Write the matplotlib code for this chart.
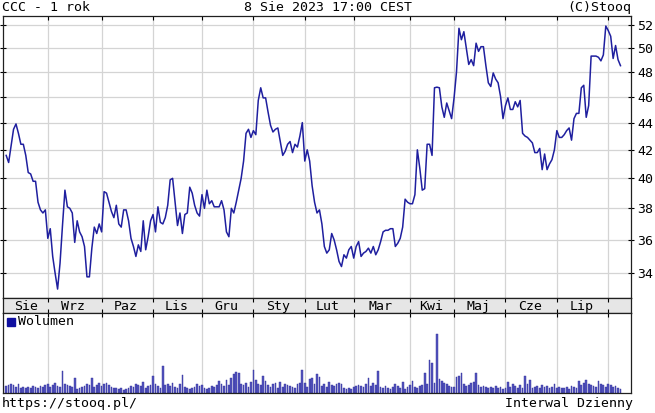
import numpy as np
import pandas as pd
import matplotlib
matplotlib.use("Agg")
import matplotlib.pyplot as plt

# trading calendar (GPW), 8 Aug 2022 - 8 Aug 2023
holidays = ["2022-08-15", "2022-11-01", "2022-11-11", "2022-12-26", "2023-01-06",
            "2023-04-07", "2023-04-10", "2023-05-01", "2023-05-03", "2023-06-08"]
dates = pd.bdate_range("2022-08-08", "2023-08-08")
dates = dates[~dates.isin(pd.to_datetime(holidays))]

month_names = ["Sty", "Lut", "Mar", "Kwi", "Maj", "Cze",
               "Lip", "Sie", "Wrz", "Paz", "Lis", "Gru"]

price = [
    # sie
    41.6, 41.1, 42.3, 43.5, 43.9, 43.2, 42.4, 42.4, 41.6, 40.4, 40.3, 39.8, 39.8, 38.4, 37.9, 37.7, 37.9,
    # wrz
    36.1, 36.7, 35.0, 34.0, 33.1, 34.6, 36.9, 39.2, 38.1, 38.0, 37.7, 35.85, 37.2, 36.5, 36.2, 35.6,
    33.8, 33.8, 35.5, 36.8, 36.4, 37.0,
    # paz
    36.5, 39.1, 39.0, 38.4, 37.8, 37.4, 38.2, 37.0, 36.8, 37.9, 37.9, 37.2, 36.1, 35.6, 35.0, 35.7,
    35.3, 37.2, 35.4, 36.2, 37.2,
    # lis
    37.6, 36.5, 38.1, 37.1, 37.0, 37.4, 38.2, 39.9, 40.0, 38.4, 36.9, 37.7, 36.4, 37.6, 37.7, 39.4,
    39.0, 38.2, 37.7, 37.5,
    # gru
    38.9, 38.0, 39.2, 38.3, 38.5, 38.1, 38.1, 38.1, 38.5, 37.9, 36.5, 36.2, 38.0, 37.7, 38.4, 39.2,
    40.0, 41.2, 43.2, 43.5, 42.9,
    # sty
    43.4, 43.1, 45.7, 46.7, 45.9, 45.9, 44.8, 43.8, 43.3, 43.5, 43.6, 42.6, 41.6, 41.9, 42.4, 42.6,
    41.8, 42.4, 42.2, 43.0, 44.0,
    # lut
    41.2, 42.0, 41.2, 39.5, 38.4, 37.7, 37.9, 37.0, 35.6, 35.2, 35.4, 36.4, 36.0, 35.4, 34.7, 34.4,
    35.1, 34.9, 35.4, 35.6,
    # mar
    34.9, 35.6, 35.9, 35.0, 35.2, 35.3, 35.5, 35.2, 35.6, 35.1, 35.4, 35.9, 36.5, 36.6, 36.6, 36.7,
    36.7, 35.6, 35.8, 36.1, 36.8, 38.6, 38.4,
    # kwi
    38.3, 38.3, 38.9, 42.0, 40.7, 39.2, 39.3, 42.4, 42.4, 41.6, 46.7, 46.75, 46.7, 45.2, 44.4, 45.5,
    44.9, 44.3,
    # maj
    45.9, 48.0, 51.7, 50.7, 51.4, 50.0, 48.6, 49.0, 48.5, 50.4, 49.7, 50.1, 50.1, 48.5, 47.1, 46.8,
    47.9, 47.4, 47.1, 46.0, 44.3,
    # cze
    45.3, 45.9, 45.0, 45.0, 45.6, 45.2, 45.7, 43.2, 43.0, 42.9, 42.7, 42.5, 41.8, 41.8, 42.1, 40.6,
    41.7, 40.6, 41.0, 41.3, 42.0,
    # lip
    43.4, 42.9, 42.9, 43.1, 43.4, 43.6, 42.7, 44.3, 44.7, 44.7, 46.7, 46.9, 44.4, 45.3, 49.3, 49.3,
    49.3, 49.2, 48.9, 49.4, 51.9,
    # sie
    51.5, 51.0, 49.1, 50.2, 49.0, 48.5,
]

volume = [
    7, 8, 9, 8, 6, 9, 5, 6, 5, 6, 5, 7, 6, 5, 7, 6, 8,
    9, 6, 8, 10, 7, 6, 22, 9, 8, 7, 6, 15, 4, 5, 6, 7, 9, 8, 15, 6, 8, 10,
    7, 9, 10, 8, 6, 5, 5, 4, 5, 3, 4, 5, 7, 6, 9, 8, 7, 11, 5, 7, 8,
    17, 9, 7, 5, 27, 8, 9, 7, 10, 6, 5, 9, 18, 6, 5, 4, 5, 6, 9, 7,
    8, 5, 4, 5, 7, 6, 8, 12, 9, 7, 13, 8, 15, 19, 21, 20, 9, 8, 10, 6, 11,
    23, 13, 9, 8, 17, 12, 8, 6, 9, 10, 5, 11, 6, 9, 8, 7, 6, 5, 9, 10, 23,
    10, 6, 14, 15, 9, 19, 16, 7, 9, 6, 11, 8, 7, 9, 10, 9, 5, 4, 5, 4,
    6, 7, 8, 7, 6, 9, 15, 7, 10, 8, 22, 6, 5, 7, 5, 4, 6, 9, 7, 5, 11, 4, 6,
    8, 12, 6, 5, 7, 8, 20, 9, 32, 29, 10, 58, 14, 12, 10, 9, 7, 6,
    6, 16, 17, 20, 9, 7, 8, 10, 11, 20, 8, 6, 7, 6, 5, 6, 5, 7, 5, 6, 4,
    5, 11, 6, 9, 7, 5, 8, 5, 17, 9, 13, 5, 6, 7, 5, 8, 6, 7, 5, 6, 9,
    5, 6, 5, 5, 6, 4, 7, 6, 5, 12, 8, 10, 13, 9, 8, 7, 6, 12, 9, 8, 6,
    9, 8, 6, 7, 5, 4,
]

price_ticks = [34, 36, 38, 40, 42, 44, 46, 48, 50, 52]

x = np.arange(len(dates))
months = dates.to_period("M")
starts = [0] + [i for i in range(1, len(dates)) if months[i] != months[i - 1]]
bounds = starts[1:]
ends = starts[1:] + [len(dates)]

xmin, xmax = -1.3, 255.2
line_col = "#1f1f9f"
grid_col = "#d4d4d4"
mono = "DejaVu Sans Mono"

fig = plt.figure(figsize=(6.55, 4.13), dpi=100)
ax = fig.add_axes([0.0046, 0.2785, 0.9584, 0.6828])
band = fig.add_axes([0.0046, 0.2429, 0.9584, 0.0356])
vax = fig.add_axes([0.0046, 0.0484, 0.9584, 0.1945])

# price panel
ax.plot(x, price, color=line_col, lw=1.1)
ax.set_yscale("log")
ax.set_ylim(32.6, 52.8)
ax.set_xlim(xmin, xmax)
ax.set_yticks(price_ticks)
ax.set_yticklabels([str(t) for t in price_ticks])
ax.yaxis.set_minor_locator(plt.NullLocator())
ax.yaxis.tick_right()
ax.tick_params(axis="y", which="major", direction="inout", length=5, pad=2,
               labelsize=9.5, left=True, right=True)
for lab in ax.get_yticklabels():
    lab.set_fontfamily(mono)
ax.set_xticks(bounds)
ax.tick_params(axis="x", direction="in", length=3, top=True, bottom=False,
               labelbottom=False)
ax.grid(True, color=grid_col, lw=0.9)
ax.set_axisbelow(True)

# month band
band.set_facecolor("#e6e6e6")
band.set_xlim(xmin, xmax)
band.set_ylim(0, 1)
band.set_yticks([])
band.set_xticks(bounds)
band.tick_params(axis="x", direction="in", length=3, top=True, bottom=True,
                 labelbottom=False)
for s, e in zip(starts, ends):
    if e - s < 10:
        continue
    band.text((s + e - 1) / 2, 0.45, month_names[dates[s].month - 1],
              ha="center", va="center", fontsize=9.5, family=mono)

# volume panel
vax.bar(x, volume, width=0.7, color="#5555bf", edgecolor="#2e2e98", lw=0.3)
vax.set_xlim(xmin, xmax)
vax.set_ylim(0, max(volume) * 1.36)
vax.set_yticks([])
vax.set_xticks(bounds)
vax.tick_params(axis="x", direction="in", length=3, top=True, bottom=False,
                labelbottom=False)
vax.grid(True, axis="x", color=grid_col, lw=0.9)
vax.set_axisbelow(True)
vax.plot([0.012], [0.885], marker="s", ms=6, color="#1010a0",
         transform=vax.transAxes, clip_on=False)
vax.text(0.024, 0.885, "Wolumen", transform=vax.transAxes, ha="left",
         va="center", fontsize=9.5, family=mono)

for a in (ax, band, vax):
    for sp in a.spines.values():
        sp.set_color("#202020")
        sp.set_linewidth(0.9)

fig.text(0.003, 0.983, "CCC - 1 rok", ha="left", va="center", fontsize=9.5, family=mono)
fig.text(0.5, 0.983, "8 Sie 2023 17:00 CEST", ha="center", va="center", fontsize=9.5, family=mono)
fig.text(0.963, 0.983, "(C)Stooq", ha="right", va="center", fontsize=9.5, family=mono)
fig.text(0.003, 0.022, "https://stooq.pl/", ha="left", va="center", fontsize=9.5, family=mono)
fig.text(0.967, 0.022, "Interwal Dzienny", ha="right", va="center", fontsize=9.5, family=mono)

fig.savefig("out.png", dpi=100)
